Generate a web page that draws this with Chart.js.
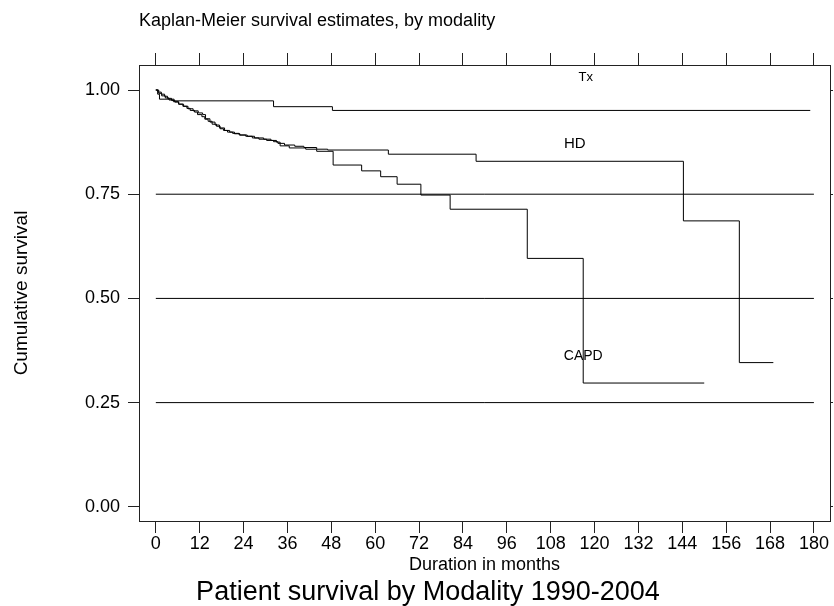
<!DOCTYPE html>
<html>
<head>
<meta charset="utf-8">
<script src="https://cdn.jsdelivr.net/npm/chart.js@4/dist/chart.umd.min.js"></script>
<style>
  html, body { margin: 0; padding: 0; background: #fff; }
  #wrap { width: 834px; height: 606px; }
</style>
</head>
<body>
<div id="wrap"><canvas id="c" width="834" height="606"></canvas></div>
<script>
// ---- data (months, cumulative survival) ----
const txMonths = [0, 0.5, 1, 5, 32.2, 48.3, 179];
const txSurv   = [1, 0.99, 0.978, 0.974, 0.960, 0.951, 0.951];

const hdMonths = [0, 0.6, 1.5, 2.4, 3.2, 4.3, 5.2, 6.3, 7.6, 8.5, 9.4, 10.6, 11.4, 12.6, 13.4, 14.3, 15.4, 16.6, 17.6, 18.5, 19.6, 21, 22.8, 24.6, 26.4, 28.2, 30.3, 32.2, 33.4, 35.2, 38, 40.5, 44, 47, 63.6, 87.6, 144.3, 159.6, 168.9];
const hdSurv   = [1, 0.995, 0.99, 0.985, 0.98, 0.975, 0.971, 0.966, 0.961, 0.956, 0.951, 0.947, 0.941, 0.936, 0.93, 0.925, 0.918, 0.913, 0.907, 0.903, 0.899, 0.896, 0.892, 0.889, 0.885, 0.882, 0.879, 0.876, 0.872, 0.868, 0.865, 0.862, 0.858, 0.856, 0.846, 0.829, 0.686, 0.346, 0.346];

const capdMonths = [0, 0.8, 1.6, 2.6, 3.6, 4.8, 6.2, 7.4, 8.8, 10.2, 11.6, 12.8, 13.6, 14.8, 16.2, 17.4, 18.8, 20.2, 21.5, 23, 25, 27, 29.5, 31.5, 33, 34, 36.5, 41, 44, 48.5, 56.3, 61.5, 66, 72.5, 80.5, 101.6, 116.9, 150];
const capdSurv   = [1, 0.992, 0.986, 0.981, 0.976, 0.972, 0.966, 0.961, 0.955, 0.95, 0.945, 0.941, 0.931, 0.923, 0.916, 0.909, 0.903, 0.899, 0.895, 0.892, 0.889, 0.885, 0.882, 0.879, 0.875, 0.866, 0.861, 0.858, 0.853, 0.820, 0.806, 0.792, 0.774, 0.748, 0.714, 0.596, 0.297, 0.297];

const refLevels = [0.25, 0.5, 0.75];
const refSpan = [0, 180];

const xTicks = [0, 12, 24, 36, 48, 60, 72, 84, 96, 108, 120, 132, 144, 156, 168, 180];
const yTicks = [0, 0.25, 0.5, 0.75, 1.0];
const yTickLabels = ['0.00', '0.25', '0.50', '0.75', '1.00'];

const curveNames = ['Tx', 'HD', 'CAPD'];
const nameX = [117.6, 114.6, 116.9];
const nameY = [1.030, 0.870, 0.362];
const nameSizes = [13, 15, 14];

const topTitle = 'Kaplan-Meier survival estimates, by modality';
const xTitle = 'Duration in months';
const yTitle = 'Cumulative survival';
const mainTitle = 'Patient survival by Modality 1990-2004';

// ---- build ----
const FONT = '"Liberation Sans", Arial, Helvetica, sans-serif';
Chart.defaults.font.family = FONT;
Chart.defaults.color = '#000';

const toPts = (xs, ys) => xs.map((v, i) => ({x: v, y: ys[i]}));
const curveStyle = {borderColor: '#000', borderWidth: 1, pointRadius: 0, stepped: 'before', fill: false, tension: 0};

const datasets = [
  Object.assign({label: 'Tx', data: toPts(txMonths, txSurv)}, curveStyle),
  Object.assign({label: 'HD', data: toPts(hdMonths, hdSurv)}, curveStyle),
  Object.assign({label: 'CAPD', data: toPts(capdMonths, capdSurv)}, curveStyle),
];
refLevels.forEach(l => datasets.push({
  label: 'ref' + l,
  data: refSpan.map(m => ({x: m, y: l})),
  borderColor: '#000', borderWidth: 1, pointRadius: 0, fill: false
}));

const X_MIN = -4.6, X_MAX = 184.4, Y_MIN = -0.034, Y_MAX = 1.06;
const setTicks = arr => (scale) => { scale.ticks = arr.map(v => ({value: v})); };

const frameColor = '#222';

const textPlugin = {
  id: 'texts',
  afterDatasetsDraw(chart) {
    const {ctx, scales: {x, y}} = chart;
    ctx.save();
    ctx.fillStyle = '#000';
    ctx.textAlign = 'center';
    ctx.textBaseline = 'middle';
    curveNames.forEach((n, i) => {
      ctx.font = nameSizes[i] + 'px ' + FONT;
      ctx.fillText(n, x.getPixelForValue(nameX[i]), y.getPixelForValue(nameY[i]));
    });
    ctx.font = '27px ' + FONT;
    ctx.textBaseline = 'alphabetic';
    ctx.fillText(mainTitle, chart.width / 2 + 11, chart.height - 6);
    ctx.restore();
  }
};

new Chart(document.getElementById('c'), {
  type: 'line',
  data: {datasets},
  plugins: [textPlugin],
  options: {
    responsive: false,
    animation: false,
    layout: {padding: {left: 0, right: 0, top: 0, bottom: 30}},
    plugins: {legend: {display: false}, tooltip: {enabled: false}, title: {display: false}},
    scales: {
      x: {
        type: 'linear', position: 'bottom', min: X_MIN, max: X_MAX,
        afterBuildTicks: setTicks(xTicks),
        afterFit: s => { s.height = 55; },
        grid: {drawOnChartArea: false, drawTicks: true, tickLength: 12, tickColor: frameColor},
        border: {display: true, color: frameColor, width: 1},
        ticks: {font: {size: 18}, padding: 0, maxRotation: 0, autoSkip: false, color: '#000'},
        title: {display: true, text: xTitle, font: {size: 18}, padding: {top: 0, bottom: 0}, color: '#000'}
      },
      x2: {
        type: 'linear', position: 'top', min: X_MIN, max: X_MAX,
        afterBuildTicks: setTicks(xTicks),
        afterFit: s => { s.height = 65; },
        grid: {drawOnChartArea: false, drawTicks: true, tickLength: 12, tickColor: frameColor},
        border: {display: true, color: frameColor, width: 1},
        ticks: {display: false},
        title: {display: true, text: topTitle, align: 'start', font: {size: 18}, padding: {top: 10, bottom: 0}, color: '#000'}
      },
      y: {
        type: 'linear', position: 'left', min: Y_MIN, max: Y_MAX,
        afterBuildTicks: setTicks(yTicks),
        afterFit: s => { s.width = 139; },
        grid: {drawOnChartArea: false, drawTicks: true, tickLength: 11, tickColor: frameColor},
        border: {display: true, color: frameColor, width: 1},
        ticks: {font: {size: 18}, padding: 8, color: '#000',
                callback: (v) => { const i = yTicks.indexOf(v); return i >= 0 ? yTickLabels[i] : ''; }},
        title: {display: true, text: yTitle, font: {size: 19}, padding: {top: 10, bottom: 0}, color: '#000'}
      },
      y2: {
        type: 'linear', position: 'right', min: Y_MIN, max: Y_MAX,
        afterBuildTicks: setTicks(yTicks),
        afterFit: s => { s.width = 4; },
        grid: {drawOnChartArea: false, drawTicks: true, tickLength: 3, tickColor: frameColor},
        border: {display: true, color: frameColor, width: 1},
        ticks: {display: false}
      }
    }
  }
});
</script>
</body>
</html>
